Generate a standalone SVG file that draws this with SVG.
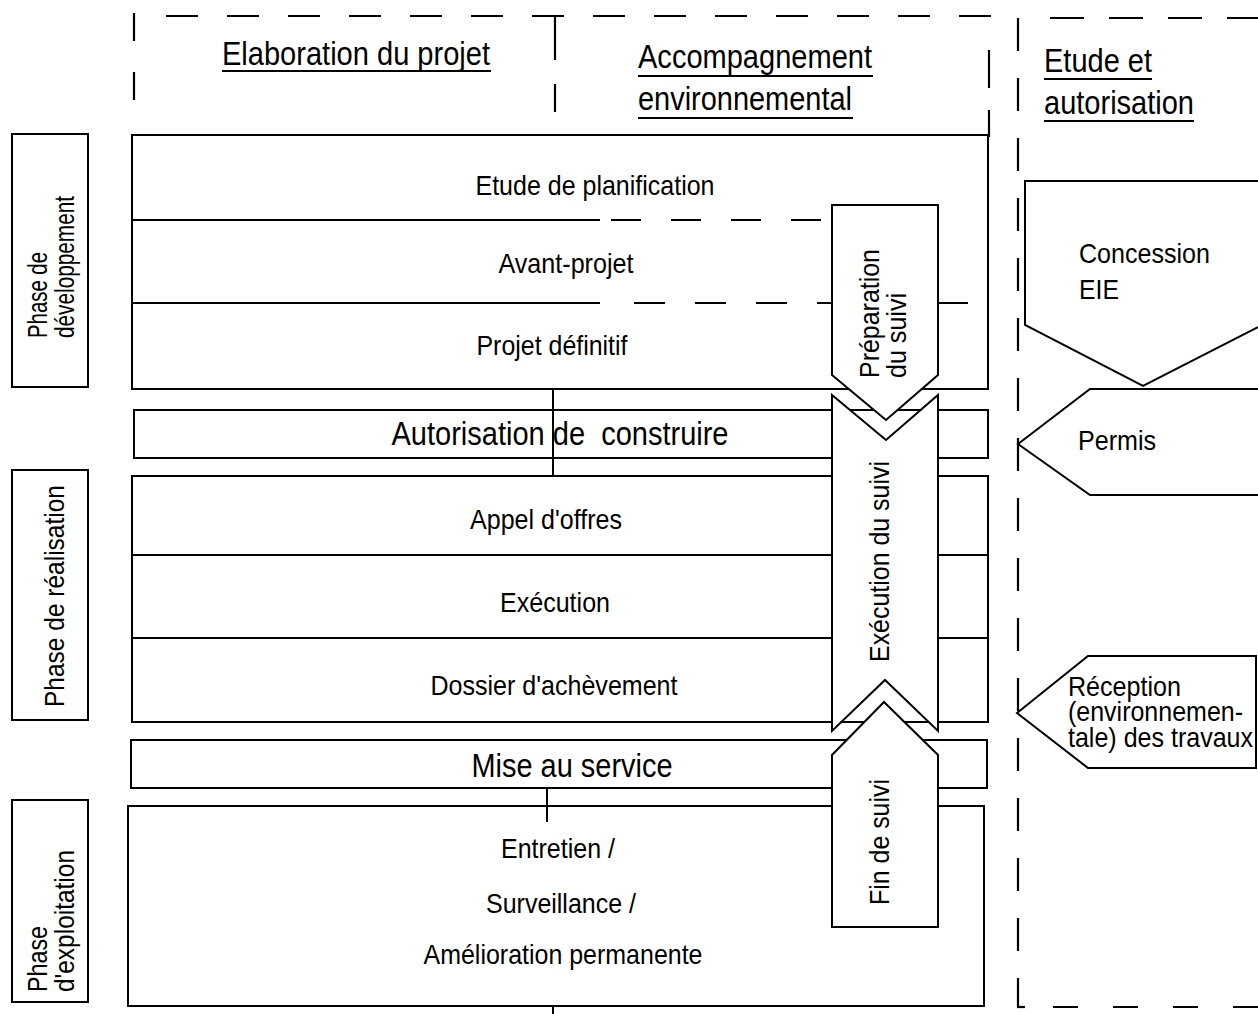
<svg xmlns="http://www.w3.org/2000/svg" width="1258" height="1014" viewBox="0 0 1258 1014">
<defs>
<style>
.t{font-family:"Liberation Sans",Arial,sans-serif;fill:#000;font-size:28px}
.h{font-size:34px}
.m{text-anchor:middle}
.box{fill:#fff;stroke:#000;stroke-width:2}
.ln{stroke:#000;stroke-width:2;fill:none}
.dash{stroke:#000;stroke-width:2.2;fill:none}
</style>
</defs>
<rect width="1258" height="1014" fill="#fff"/>

<g id="frames">
  <line class="dash" x1="166" y1="16" x2="992" y2="16" stroke-dasharray="32 29"/>
  <line class="dash" x1="134" y1="13" x2="134" y2="102" stroke-dasharray="28 31"/>
  <line class="dash" x1="555" y1="17" x2="555" y2="112" stroke-dasharray="43 24"/>
  <line class="dash" x1="989" y1="50" x2="989" y2="137" stroke-dasharray="38 22"/>
  <line class="dash" x1="1018" y1="18" x2="1018" y2="1007" stroke-dasharray="33 27"/>
  <line class="dash" x1="1050" y1="18" x2="1258" y2="18" stroke-dasharray="34 25"/>
  <line class="dash" x1="1017" y1="1007" x2="1025" y2="1007"/>
  <line class="dash" x1="1053" y1="1007" x2="1258" y2="1007" stroke-dasharray="25 35"/>
</g>

<g id="headers">
  <text class="t h" x="222" y="65" textLength="268" lengthAdjust="spacingAndGlyphs">Elaboration du projet</text>
  <line class="ln" x1="222" y1="71" x2="491" y2="71"/>
  <text class="t h" x="638" y="68" textLength="234" lengthAdjust="spacingAndGlyphs">Accompagnement</text>
  <line class="ln" x1="638" y1="76" x2="873" y2="76"/>
  <text class="t h" x="638" y="110" textLength="214" lengthAdjust="spacingAndGlyphs">environnemental</text>
  <line class="ln" x1="638" y1="118" x2="853" y2="118"/>
  <text class="t h" x="1044" y="72" textLength="108" lengthAdjust="spacingAndGlyphs">Etude et</text>
  <line class="ln" x1="1044" y1="79" x2="1152" y2="79"/>
  <text class="t h" x="1044" y="114" textLength="150" lengthAdjust="spacingAndGlyphs">autorisation</text>
  <line class="ln" x1="1044" y1="121" x2="1194" y2="121"/>
</g>

<g id="phase-developpement">
  <rect class="box" x="12" y="134" width="76" height="253"/>
  <text class="t" transform="translate(47,338) rotate(-90)" textLength="86" lengthAdjust="spacingAndGlyphs">Phase de</text>
  <text class="t" transform="translate(74,338) rotate(-90)" textLength="142" lengthAdjust="spacingAndGlyphs">développement</text>
</g>
<g id="phase-realisation">
  <rect class="box" x="12" y="470" width="76" height="250"/>
  <text class="t" transform="translate(64,707) rotate(-90)" textLength="222" lengthAdjust="spacingAndGlyphs">Phase de réalisation</text>
</g>
<g id="phase-exploitation">
  <rect class="box" x="12" y="800" width="76" height="202"/>
  <text class="t" transform="translate(47,992) rotate(-90)" textLength="66" lengthAdjust="spacingAndGlyphs">Phase</text>
  <text class="t" transform="translate(74,992) rotate(-90)" textLength="142" lengthAdjust="spacingAndGlyphs">d'exploitation</text>
</g>

<g id="developpement">
  <rect class="box" x="132" y="135" width="856" height="254"/>
  <line class="ln" x1="132" y1="220" x2="600" y2="220"/>
  <line class="dash" x1="611" y1="220" x2="938" y2="220" stroke-dasharray="30 30"/>
  <line class="ln" x1="132" y1="303" x2="600" y2="303"/>
  <line class="dash" x1="634" y1="303" x2="968" y2="303" stroke-dasharray="31 30"/>
  <text class="t m" x="595" y="195" textLength="239" lengthAdjust="spacingAndGlyphs">Etude de planification</text>
  <text class="t m" x="566" y="273" textLength="135" lengthAdjust="spacingAndGlyphs">Avant-projet</text>
  <text class="t m" x="552" y="355" textLength="151" lengthAdjust="spacingAndGlyphs">Projet définitif</text>
</g>

<g id="autorisation">
  <rect class="box" x="134" y="410" width="854" height="48"/>
  <text class="t h m" x="560" y="445" xml:space="preserve" textLength="337" lengthAdjust="spacingAndGlyphs">Autorisation de  construire</text>
</g>

<g id="realisation">
  <rect class="box" x="132" y="476" width="856" height="246"/>
  <line class="ln" x1="132" y1="555" x2="988" y2="555"/>
  <line class="ln" x1="132" y1="638" x2="988" y2="638"/>
  <text class="t m" x="546" y="529" textLength="152" lengthAdjust="spacingAndGlyphs">Appel d'offres</text>
  <text class="t m" x="555" y="612" textLength="110" lengthAdjust="spacingAndGlyphs">Exécution</text>
  <text class="t m" x="554" y="695" textLength="247" lengthAdjust="spacingAndGlyphs">Dossier d'achèvement</text>
</g>

<g id="mise-au-service">
  <rect class="box" x="131" y="740" width="856" height="48"/>
  <text class="t h m" x="572" y="777" textLength="201" lengthAdjust="spacingAndGlyphs">Mise au service</text>
</g>

<g id="exploitation">
  <rect class="box" x="128" y="806" width="856" height="200"/>
  <text class="t m" x="558" y="858" textLength="114" lengthAdjust="spacingAndGlyphs">Entretien /</text>
  <text class="t m" x="561" y="913" textLength="150" lengthAdjust="spacingAndGlyphs">Surveillance /</text>
  <text class="t m" x="563" y="964" textLength="279" lengthAdjust="spacingAndGlyphs">Amélioration permanente</text>
</g>

<g id="connectors">
  <line class="ln" x1="553" y1="389" x2="553" y2="476"/>
  <line class="ln" x1="547" y1="788" x2="547" y2="822"/>
  <line class="ln" x1="553" y1="1006" x2="553" y2="1014"/>
</g>

<g id="execution-suivi">
  <polygon class="box" points="832,395 886,440 938,395 938,731 885,680 832,731"/>
  <text class="t" transform="translate(889,662) rotate(-90)" textLength="201" lengthAdjust="spacingAndGlyphs">Exécution du suivi</text>
</g>
<g id="preparation-suivi">
  <polygon class="box" points="832,205 938,205 938,375 886,420 832,375"/>
  <text class="t" transform="translate(879,378) rotate(-90)" textLength="129" lengthAdjust="spacingAndGlyphs">Préparation</text>
  <text class="t" transform="translate(906,378) rotate(-90)" textLength="85" lengthAdjust="spacingAndGlyphs">du suivi</text>
</g>
<g id="fin-suivi">
  <polygon class="box" points="832,927 832,755 884,702 938,755 938,927"/>
  <text class="t" transform="translate(889,905) rotate(-90)" textLength="126" lengthAdjust="spacingAndGlyphs">Fin de suivi</text>
</g>

<g id="concession-eie">
  <polygon class="box" points="1025,181 1262,181 1262,325 1143,386 1025,325"/>
  <text class="t" x="1079" y="263" textLength="131" lengthAdjust="spacingAndGlyphs">Concession</text>
  <text class="t" x="1079" y="299" textLength="40" lengthAdjust="spacingAndGlyphs">EIE</text>
</g>
<g id="permis">
  <polygon class="box" points="1018,444 1090,389 1262,389 1262,495 1090,495"/>
  <text class="t" x="1078" y="450" textLength="78" lengthAdjust="spacingAndGlyphs">Permis</text>
</g>
<g id="reception">
  <polygon class="box" points="1017,713 1088,656 1256,656 1256,768 1088,768"/>
  <text class="t" x="1068" y="696" textLength="113" lengthAdjust="spacingAndGlyphs">Réception</text>
  <text class="t" x="1068" y="721" textLength="175" lengthAdjust="spacingAndGlyphs">(environnemen-</text>
  <text class="t" x="1068" y="747" textLength="185" lengthAdjust="spacingAndGlyphs">tale) des travaux</text>
</g>
</svg>
